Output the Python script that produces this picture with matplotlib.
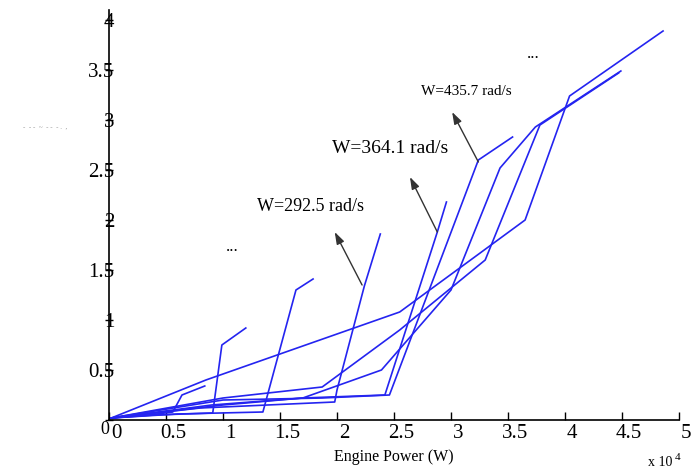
import matplotlib
matplotlib.use('Agg')
import matplotlib.pyplot as plt
from matplotlib.transforms import ScaledTranslation

# engine power (x 10^4 W) and torque-ish values, one curve per speed
power_1 = [0.02, 0.35, 0.56, 0.64, 0.84]
value_1 = [0.02, 0.05, 0.08, 0.25, 0.34]
power_2 = [0.02, 0.40, 0.91, 0.99, 1.20]
value_2 = [0.02, 0.05, 0.07, 0.75, 0.92]
power_3 = [0.02, 0.60, 1.35, 1.64, 1.79]
value_3 = [0.02, 0.06, 0.08, 1.30, 1.41]
power_4 = [0.02, 0.80, 1.98, 2.00, 2.24, 2.38]
value_4 = [0.02, 0.12, 0.18, 0.30, 1.34, 1.86]
power_5 = [0.02, 0.90, 1.70, 2.42, 2.88, 2.96]
value_5 = [0.02, 0.15, 0.22, 0.25, 1.88, 2.18]
power_6 = [0.02, 1.00, 1.87, 2.46, 3.24, 3.54]
value_6 = [0.02, 0.20, 0.22, 0.25, 2.60, 2.83]
power_7 = [0.02, 1.00, 1.70, 2.39, 3.00, 3.43, 3.74, 4.49]
value_7 = [0.02, 0.15, 0.22, 0.50, 1.30, 2.52, 2.93, 3.49]
power_8 = [0.02, 0.85, 2.55, 3.65, 4.04, 4.86]
value_8 = [0.02, 0.40, 1.08, 2.00, 3.24, 3.89]
power_9 = [0.02, 1.00, 1.87, 2.55, 3.30, 3.78, 4.47]
value_9 = [0.02, 0.22, 0.33, 0.90, 1.60, 2.95, 3.47]

curves = [(power_1, value_1), (power_2, value_2), (power_3, value_3),
          (power_4, value_4), (power_5, value_5), (power_6, value_6),
          (power_7, value_7), (power_8, value_8), (power_9, value_9)]

x_ticks = [0, 0.5, 1, 1.5, 2, 2.5, 3, 3.5, 4, 4.5, 5]
x_tick_labels = ['0', '0.5', '1', '1.5', '2', '2.5', '3', '3.5', '4', '4.5', '5']
y_ticks = [0, 0.5, 1, 1.5, 2, 2.5, 3, 3.5, 4]
y_tick_labels = ['0', '0.5', '1', '1.5', '2', '2.5', '3', '3.5', '4']

# annotations: label, text pos, arrow head, arrow tail, fontsize
speed_labels = ['W=292.5 rad/s', 'W=364.1 rad/s', 'W=435.7 rad/s']
label_xy = [(1.77, 2.13), (2.47, 2.71), (3.13, 3.28)]
head_xy = [(1.98, 1.88), (2.64, 2.43), (3.01, 3.08)]
tail_xy = [(2.22, 1.35), (2.88, 1.88), (3.24, 2.58)]
label_size = [13, 14, 11]

serif = ['Liberation Serif', 'DejaVu Serif']
plt.rcParams['font.family'] = serif

fig = plt.figure(figsize=(6.96, 4.70), dpi=100)
ax = fig.add_axes([109 / 696, 50 / 470, 570 / 696, 410 / 470])

for (px, py) in curves:
    ax.plot(px, py, color='#2424f0', lw=1.2, clip_on=False)

ax.set_xlim(0, 5)
ax.set_ylim(0, 4.1)
ax.spines['top'].set_visible(False)
ax.spines['right'].set_visible(False)
ax.spines['left'].set_linewidth(1.2)
ax.spines['bottom'].set_linewidth(1.2)

ax.set_xticks(x_ticks)
ax.set_xticklabels(x_tick_labels, fontsize=15)
ax.set_yticks(y_ticks)
ax.set_yticklabels(y_tick_labels, fontsize=15)
ax.tick_params(axis='x', direction='in', length=6, width=1, pad=3)
ax.tick_params(axis='y', direction='inout', length=6, width=1, pad=-7)
shift = ScaledTranslation(7 / 100, 0, fig.dpi_scale_trans)
for lab in ax.get_xticklabels():
    lab.set_transform(lab.get_transform() + shift)
# the y "0" sits a little low and left of the x "0" in the original
zero_lab = ax.get_yticklabels()[0]
zero_lab.set_transform(zero_lab.get_transform() + ScaledTranslation(-5 / 100, -8 / 100, fig.dpi_scale_trans))
zero_lab.set_fontsize(13)

ax.set_xlabel('Engine Power (W)', fontsize=11.5, labelpad=4)
fig.text(648 / 696, 1 - 463 / 470, 'x 10', fontsize=10, ha='left', va='center')
fig.text(675 / 696, 1 - 457 / 470, '4', fontsize=8, ha='left', va='center')
fig.text(45 / 696, 1 - 128 / 470, '-  - -  ~  - -  - .  ,', fontsize=5, color='#888888',
         ha='center', va='center')

for (txt, lxy, hxy, txy, fs) in zip(speed_labels, label_xy, head_xy, tail_xy, label_size):
    ax.text(lxy[0], lxy[1], txt, fontsize=fs, ha='center', va='center')
    ax.annotate('', xy=hxy, xytext=txy,
                arrowprops=dict(arrowstyle='-|>,head_length=0.6,head_width=0.2', color='#333333',
                                lw=1.0, mutation_scale=12, shrinkA=0, shrinkB=0))

ax.text(1.08, 1.73, '...', fontsize=12, ha='center', va='center')
ax.text(3.72, 3.66, '...', fontsize=12, ha='center', va='center')

fig.savefig('out.png', dpi=100)
